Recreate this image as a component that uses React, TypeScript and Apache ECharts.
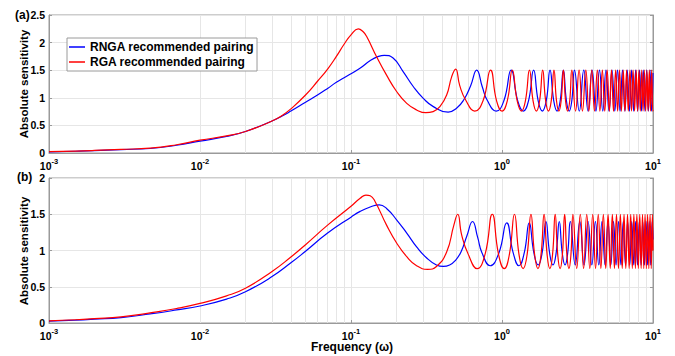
import React, { useEffect, useRef } from 'react';
import * as echarts from 'echarts';

const FONT = '"Liberation Sans", Arial, Helvetica, sans-serif';
const BLUE = '#0000ff';
const RED = '#ff0000';
const AXIS_GRAY = '#9a9a9a';
const GRID_GRAY = '#e6e6e6';

const seriesNames = ['RNGA recommended pairing', 'RGA recommended pairing'];
const panelLabels = ['(a)', '(b)'];
const yAxisTitle = 'Absolute sensitivity';
const xAxisTitle = 'Frequency (\u03c9)';

// minor log grid positions (2..9 of each decade)
const minorGridX = [
  0.002, 0.003, 0.004, 0.005, 0.006, 0.007, 0.008, 0.009,
  0.02, 0.03, 0.04, 0.05, 0.06, 0.07, 0.08, 0.09,
  0.2, 0.3, 0.4, 0.5, 0.6, 0.7, 0.8, 0.9,
  2, 3, 4, 5, 6, 7, 8, 9,
];

// ---- panel (a) ----
const topRNGA: [number, number][] = [
  [0.001, 0.022], [0.0015, 0.032], [0.002, 0.042], [0.003, 0.062], [0.00467, 0.082], [0.007, 0.14],
  [0.01, 0.215], [0.015, 0.3], [0.02, 0.39], [0.03, 0.58], [0.035, 0.67], [0.04, 0.76], [0.05, 0.92],
  [0.06, 1.05], [0.07, 1.17], [0.08, 1.28], [0.0936, 1.39], [0.114, 1.53], [0.135, 1.68], [0.152, 1.75],
  [0.166, 1.77], [0.19, 1.72],
  [0.222, 1.47], [0.259, 1.2], [0.301, 0.99], [0.351, 0.84], [0.44, 0.74], [0.5, 0.81], [0.56, 0.97],
  [0.62, 1.22], [0.68, 1.5], [0.74, 1.2], [0.8, 0.95], [0.915, 0.76], [1.03, 0.95], [1.15, 1.5],
  [1.27, 0.95], [1.385, 0.76], [1.5, 0.95], [1.62, 1.5], [1.735, 0.95], [1.85, 0.76], [1.965, 0.95],
  [2.08, 1.5], [2.2, 0.95], [2.315, 0.76], [2.43, 0.95], [2.55, 1.5], [2.67, 0.95], [2.785, 0.76],
  [2.9, 0.95], [3.02, 1.5], [3.25, 0.76], [3.48, 1.5], [3.715, 0.76], [3.95, 1.5], [4.185, 0.76],
  [4.42, 1.5], [4.65, 0.76], [4.88, 1.5], [5.115, 0.76], [5.35, 1.5], [5.585, 0.76], [5.82, 1.5],
  [6.05, 0.76], [6.28, 1.5], [6.515, 0.76], [6.75, 1.5], [6.985, 0.76], [7.22, 1.5], [7.45, 0.76],
  [7.68, 1.5], [7.915, 0.76], [8.15, 1.5], [8.385, 0.76], [8.62, 1.5], [8.85, 0.76], [9.08, 1.5],
  [9.315, 0.76], [9.55, 1.5], [9.785, 0.76], [10, 1.45],
];

const topRGA: [number, number][] = [
  [0.001, 0.025], [0.0015, 0.035], [0.002, 0.046], [0.003, 0.066], [0.00467, 0.088], [0.007, 0.15],
  [0.01, 0.232], [0.015, 0.31], [0.02, 0.39], [0.03, 0.58], [0.035, 0.68], [0.04, 0.8], [0.05, 1.05],
  [0.06, 1.3], [0.07, 1.52], [0.08, 1.75], [0.09, 1.97], [0.1, 2.14], [0.1117, 2.25], [0.12, 2.2],
  [0.127, 2.11], [0.148, 1.74], [0.172, 1.41],
  [0.201, 1.11], [0.234, 0.9], [0.272, 0.78], [0.313, 0.73], [0.35, 0.75], [0.388, 0.84], [0.43, 1.05],
  [0.464, 1.38], [0.493, 1.52], [0.525, 1.22], [0.577, 0.95], [0.66, 0.76], [0.75, 0.95], [0.84, 1.5],
  [0.92, 0.95], [1.0, 0.76], [1.085, 0.95], [1.17, 1.5], [1.26, 0.95], [1.345, 0.76], [1.43, 0.95],
  [1.52, 1.5], [1.605, 0.95], [1.69, 0.76], [1.775, 0.95], [1.86, 1.5], [1.945, 0.95], [2.03, 0.76],
  [2.12, 0.95], [2.21, 1.5], [2.295, 0.95], [2.38, 0.76], [2.465, 0.95], [2.55, 1.5], [2.635, 0.95],
  [2.72, 0.76], [2.81, 0.95], [2.9, 1.5], [3.07, 0.76], [3.24, 1.5], [3.41, 0.76], [3.59, 1.5],
  [3.76, 0.76], [3.93, 1.5], [4.1, 0.76], [4.28, 1.5], [4.45, 0.76], [4.62, 1.5], [4.79, 0.76],
  [4.97, 1.5], [5.14, 0.76], [5.31, 1.5], [5.48, 0.76], [5.66, 1.5], [5.83, 0.76], [6.0, 1.5],
  [6.17, 0.76], [6.35, 1.5], [6.52, 0.76], [6.69, 1.5], [6.86, 0.76], [7.04, 1.5], [7.21, 0.76],
  [7.38, 1.5], [7.55, 0.76], [7.73, 1.5], [7.9, 0.76], [8.07, 1.5], [8.24, 0.76], [8.42, 1.5],
  [8.59, 0.76], [8.76, 1.5], [8.93, 0.76], [9.11, 1.5], [9.28, 0.76], [9.45, 1.5], [9.62, 0.76],
  [9.8, 1.5], [9.97, 0.76], [10, 0.78],
];

// ---- panel (b) ----
const bottomRNGA: [number, number][] = [
  [0.001, 0.027], [0.0015, 0.04], [0.002, 0.053], [0.003, 0.075], [0.00467, 0.125], [0.007, 0.18],
  [0.01, 0.235], [0.015, 0.33], [0.02, 0.43], [0.03, 0.64], [0.04, 0.83], [0.05, 0.99], [0.07, 1.24],
  [0.1, 1.46], [0.115, 1.54], [0.134, 1.6], [0.154, 1.63], [0.172, 1.58], [0.201, 1.42],
  [0.234, 1.24], [0.272, 1.05], [0.316, 0.9], [0.368, 0.8], [0.408, 0.78], [0.45, 0.8], [0.49, 0.86],
  [0.535, 0.98], [0.585, 1.2], [0.638, 1.4], [0.69, 1.18], [0.7365, 0.97], [0.835, 0.79], [0.955, 0.97],
  [1.075, 1.38], [1.185, 0.97], [1.295, 0.79], [1.405, 0.97], [1.515, 1.38], [1.625, 0.97], [1.735, 0.8],
  [1.845, 0.97], [1.955, 1.4], [2.065, 0.97], [2.175, 0.8], [2.285, 0.97], [2.395, 1.4], [2.505, 0.97],
  [2.615, 0.8], [2.725, 0.97], [2.835, 1.4], [3.055, 0.8], [3.275, 1.4], [3.495, 0.8], [3.715, 1.4],
  [3.935, 0.8], [4.155, 1.4], [4.375, 0.8], [4.595, 1.4], [4.815, 0.8], [5.035, 1.4], [5.255, 0.8],
  [5.475, 1.4], [5.695, 0.8], [5.915, 1.4], [6.135, 0.8], [6.355, 1.4], [6.575, 0.8], [6.795, 1.4],
  [7.015, 0.8], [7.235, 1.4], [7.455, 0.8], [7.675, 1.4], [7.895, 0.8], [8.115, 1.4], [8.335, 0.8],
  [8.555, 1.4], [8.775, 0.8], [8.995, 1.4], [9.215, 0.8], [9.435, 1.4], [9.655, 0.8], [9.875, 1.4],
  [10, 1.15],
];

const bottomRGA: [number, number][] = [
  [0.001, 0.03], [0.0015, 0.045], [0.002, 0.06], [0.003, 0.085], [0.00467, 0.14], [0.007, 0.2],
  [0.01, 0.27], [0.015, 0.375], [0.02, 0.48], [0.03, 0.71], [0.04, 0.91], [0.05, 1.08], [0.07, 1.35],
  [0.1, 1.61], [0.115, 1.72], [0.1256, 1.765], [0.134, 1.755], [0.144, 1.68],
  [0.172, 1.35], [0.201, 1.1], [0.234, 0.915], [0.272, 0.79], [0.322, 0.74], [0.368, 0.78], [0.43, 0.98],
  [0.48, 1.35], [0.509, 1.5], [0.54, 1.22], [0.597, 0.95], [0.685, 0.75], [0.773, 0.95], [0.862, 1.5],
  [0.948, 0.95], [1.035, 0.75], [1.12, 0.95], [1.21, 1.5], [1.295, 0.95], [1.38, 0.75], [1.468, 0.95],
  [1.555, 1.5], [1.643, 0.95], [1.73, 0.75], [1.815, 0.95], [1.9, 1.5], [1.988, 0.95], [2.075, 0.75],
  [2.163, 0.95], [2.25, 1.5], [2.338, 0.95], [2.425, 0.75], [2.513, 0.95], [2.6, 1.5], [2.688, 0.95],
  [2.775, 0.75], [2.863, 0.95], [2.95, 1.5], [3.125, 0.75], [3.3, 1.5], [3.47, 0.75], [3.64, 1.5],
  [3.815, 0.75], [3.99, 1.5], [4.165, 0.75], [4.34, 1.5], [4.515, 0.75], [4.69, 1.5], [4.865, 0.75],
  [5.04, 1.5], [5.21, 0.75], [5.38, 1.5], [5.555, 0.75], [5.73, 1.5], [5.905, 0.75], [6.08, 1.5],
  [6.255, 0.75], [6.43, 1.5], [6.605, 0.75], [6.78, 1.5], [6.95, 0.75], [7.12, 1.5], [7.295, 0.75],
  [7.47, 1.5], [7.645, 0.75], [7.82, 1.5], [7.995, 0.75], [8.17, 1.5], [8.345, 0.75], [8.52, 1.5],
  [8.69, 0.75], [8.86, 1.5], [9.035, 0.75], [9.21, 1.5], [9.385, 0.75], [9.56, 1.5], [9.735, 0.75],
  [9.91, 1.5], [10, 1.0],
];

const xMin = 0.001;
const xMax = 10;
const yMaxTop = 2.5;
const yMaxBottom = 2;
const yInterval = 0.5;

export default function App() {
  const ref = useRef<HTMLDivElement>(null);

  useEffect(() => {
    const chart = echarts.init(ref.current!, null, { renderer: 'svg' });

    const grids = [
      { left: 49, top: 15, width: 604, height: 138 },
      { left: 49, top: 178, width: 604, height: 145 },
    ];

    const xAxis = grids.map((_, i) => ({
      type: 'log',
      logBase: 10,
      gridIndex: i,
      min: xMin,
      max: xMax,
      axisLine: { show: true, lineStyle: { color: AXIS_GRAY, width: 1 } },
      axisTick: { show: true, inside: true, length: 3, lineStyle: { color: AXIS_GRAY } },
      axisLabel: {
        margin: 4,
        formatter: (v: number) => '{b|10}{s|' + Math.round(Math.log10(v)) + '}',
        rich: {
          b: { fontFamily: FONT, fontWeight: 'bold', fontSize: 10.5, color: '#000', lineHeight: 14, verticalAlign: 'bottom' },
          s: { fontFamily: FONT, fontWeight: 'bold', fontSize: 7.5, color: '#000', lineHeight: 8, verticalAlign: 'top' },
        },
      },
      splitLine: { show: true, lineStyle: { color: GRID_GRAY, width: 1 } },
    }));

    const yMaxes = [yMaxTop, yMaxBottom];
    const yLeft = yMaxes.map((mx, i) => ({
      type: 'value',
      gridIndex: i,
      min: 0,
      max: mx,
      interval: yInterval,
      axisLine: { show: true, lineStyle: { color: AXIS_GRAY, width: 1 } },
      axisTick: { show: true, inside: true, length: 3, lineStyle: { color: AXIS_GRAY } },
      axisLabel: { margin: 4, fontFamily: FONT, fontWeight: 'bold', fontSize: 10.5, color: '#000' },
      splitLine: { show: true, lineStyle: { color: GRID_GRAY, width: 1 } },
    }));
    const yRight = yMaxes.map((mx, i) => ({
      type: 'value',
      gridIndex: i,
      position: 'right',
      min: 0,
      max: mx,
      interval: yInterval,
      axisLine: { show: true, lineStyle: { color: AXIS_GRAY, width: 1 } },
      axisTick: { show: true, inside: true, length: 3, lineStyle: { color: AXIS_GRAY } },
      axisLabel: { show: false },
      splitLine: { show: false },
    }));

    const lineSeries = (name: string, data: [number, number][], color: string, gi: number) => ({
      type: 'line',
      name,
      xAxisIndex: gi,
      yAxisIndex: gi,
      data,
      symbol: 'none',
      showSymbol: false,
      smooth: true,
      lineStyle: { color, width: 1.2 },
      itemStyle: { color },
      emphasis: { disabled: true },
      z: 3,
    });

    const gridSeries = (gi: number) => ({
      type: 'line',
      name: 'minor-grid-' + gi,
      xAxisIndex: gi,
      yAxisIndex: gi,
      data: [],
      silent: true,
      markLine: {
        silent: true,
        z: 1,
        symbol: ['none', 'none'],
        label: { show: false },
        emphasis: { disabled: true },
        lineStyle: { color: GRID_GRAY, width: 1, type: 'solid' },
        data: minorGridX.map((v) => ({ xAxis: v })),
      },
    });

    const titleStyle = { fontFamily: FONT, fontWeight: 'bold', fontSize: 11.5, fill: '#000', align: 'center', verticalAlign: 'middle' };

    const option = {
      animation: false,
      backgroundColor: '#ffffff',
      grid: grids.map((g) => ({ ...g, show: true, borderColor: AXIS_GRAY, borderWidth: 1, backgroundColor: 'transparent' })),
      xAxis,
      yAxis: [...yLeft, ...yRight],
      legend: {
        data: seriesNames,
        left: 67,
        top: 38,
        orient: 'vertical',
        icon: 'rect',
        itemWidth: 16,
        itemHeight: 1.5,
        itemGap: 1,
        padding: [2, 3, 2, 2],
        backgroundColor: '#ffffff',
        borderColor: AXIS_GRAY,
        borderWidth: 1,
        selectedMode: false,
        textStyle: { fontFamily: FONT, fontWeight: 'bold', fontSize: 12, color: '#000', lineHeight: 14 },
      },
      graphic: [
        { type: 'text', left: 15, top: 9, style: { text: panelLabels[0], fontFamily: FONT, fontWeight: 'bold', fontSize: 12, fill: '#000' } },
        { type: 'text', left: 17, top: 171, style: { text: panelLabels[1], fontFamily: FONT, fontWeight: 'bold', fontSize: 12, fill: '#000' } },
        { type: 'text', x: 24, y: 84, rotation: Math.PI / 2, style: { text: yAxisTitle, ...titleStyle } },
        { type: 'text', x: 24, y: 251, rotation: Math.PI / 2, style: { text: yAxisTitle, ...titleStyle } },
        { type: 'text', x: 352, y: 347, style: { text: xAxisTitle, ...titleStyle, fontSize: 12 } },
      ],
      series: [
        gridSeries(0),
        lineSeries(seriesNames[0], topRNGA, BLUE, 0),
        lineSeries(seriesNames[1], topRGA, RED, 0),
        gridSeries(1),
        lineSeries(seriesNames[0], bottomRNGA, BLUE, 1),
        lineSeries(seriesNames[1], bottomRGA, RED, 1),
      ],
    };

    chart.setOption(option as any);
    return () => chart.dispose();
  }, []);

  return (
    <div
      ref={ref}
      style={{ position: 'fixed', left: 0, top: 0, width: 675, height: 356, background: '#fff' }}
    />
  );
}
